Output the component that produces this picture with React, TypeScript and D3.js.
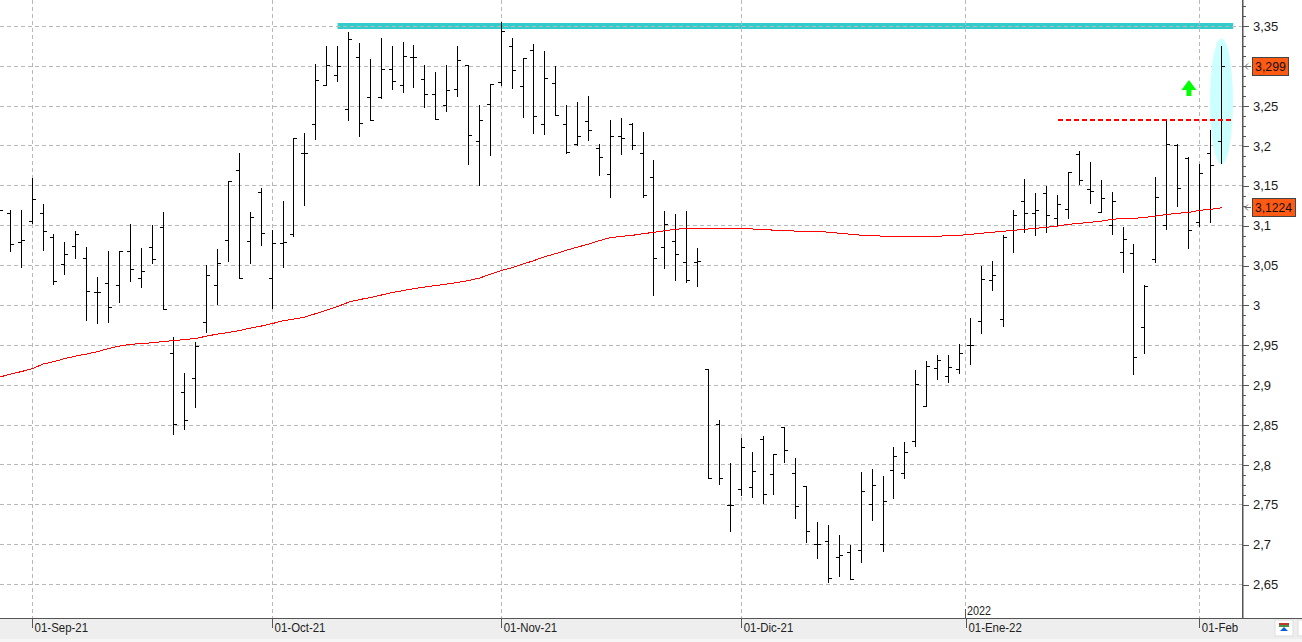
import React from 'react'
import * as d3 from "d3";

// Barras diarias (índice 3 = 01-Sep-21, índice 112 = última sesión)
const opens = [3.1192,3.1154,3.0790,3.1053,3.1154,3.0853,3.0515,3.0740,3.0590,3.0163,3.0276,3.0251,3.0677,3.0339,3.0727,3.0978,2.9398,2.8909,2.9085,2.9787,3.0251,3.0815,3.1693,3.0802,3.1417,3.0339,3.0778,3.0891,3.1906,3.2270,3.2759,3.2884,3.2458,3.3110,3.2608,3.2608,3.2960,3.2759,3.3110,3.2834,3.2646,3.2508,3.2709,3.3010,3.2056,3.2521,3.2797,3.3248,3.2747,3.3198,3.2270,3.2784,3.2270,3.2019,3.2307,3.1969,3.1643,3.2120,3.2270,3.1906,3.1605,3.0727,3.0802,3.0540,3.0540,2.9198,2.8508,2.7492,2.7693,2.7718,2.8320,2.7881,2.8470,2.7893,2.7731,2.7003,2.7040,2.6840,2.6903,2.6928,2.7505,2.7003,2.7931,2.7893,2.8294,2.8734,2.9211,2.9110,2.9198,2.9498,2.9799,3.0314,2.9825,3.0941,3.1304,3.1154,3.1404,3.1092,3.1204,3.1894,3.1455,3.1167,3.1003,3.0665,3.0652,2.9724,3.0577,3.1003,3.2006,3.1844,3.1041,3.1906,3.2056];
const highs = [3.1254,3.1192,3.1192,3.1593,3.1267,3.0891,3.0790,3.0928,3.0727,3.0351,3.0677,3.0677,3.1016,3.0715,3.1003,3.1167,2.9599,2.9147,2.9536,3.0502,3.0703,3.1555,3.1906,3.1167,3.1468,3.0941,3.1304,3.2095,3.2157,3.3023,3.3248,3.3248,3.3424,3.3285,3.3085,3.3349,3.3248,3.3298,3.3260,3.3010,3.2922,3.3010,3.3248,3.3010,3.2508,3.2772,3.3549,3.3349,3.3098,3.3273,3.3185,3.2998,3.2508,3.2546,3.2621,3.2019,3.2320,3.2346,3.2282,3.2170,3.1819,3.1179,3.1142,3.1179,3.0715,2.9198,2.8558,2.8019,2.8333,2.8157,2.8358,2.8132,2.8470,2.8082,2.7731,2.7279,2.7241,2.7116,2.6990,2.7906,2.7944,2.7856,2.8219,2.8282,2.9185,2.9298,2.9373,2.9373,2.9511,2.9838,3.0490,3.0552,3.0878,3.1192,3.1580,3.1404,3.1493,3.1379,3.1668,3.1931,3.1794,3.1568,3.1417,3.0978,3.0765,3.0251,3.1605,3.2320,3.2019,3.1856,3.1769,3.2195,3.3248];
const lows = [3.0690,3.0677,3.0477,3.1028,3.0690,3.0264,3.0389,3.0590,2.9812,2.9774,2.9787,3.0038,3.0301,3.0226,3.0527,2.9950,2.8383,2.8445,2.8721,2.9662,3.0013,3.0552,3.0339,3.0527,3.0752,2.9963,3.0477,3.0866,3.1254,3.2082,3.2759,3.2809,3.2320,3.2120,3.2320,3.2596,3.2709,3.2671,3.2734,3.2483,3.2333,3.2433,3.2621,3.1769,3.1505,3.1881,3.2759,3.2722,3.2358,3.2157,3.2145,3.2383,3.1906,3.2006,3.2069,3.1630,3.1354,3.1894,3.1956,3.1354,3.0125,3.0465,3.0314,3.0289,3.0239,2.7831,2.7756,2.7166,2.7617,2.7592,2.7517,2.7630,2.8032,2.7330,2.7028,2.6828,2.6527,2.6602,2.6564,2.6778,2.7304,2.6915,2.7580,2.7831,2.8232,2.8734,2.9072,2.9035,2.9147,2.9261,2.9649,3.0188,2.9737,3.0665,3.0916,3.0878,3.0916,3.0991,3.1092,3.1518,3.1279,3.1167,3.0891,3.0414,2.9135,2.9398,3.0540,3.0954,3.1242,3.0715,3.0991,3.1041,3.1781];
const closes = [3.1192,3.0765,3.0815,3.1329,3.0928,3.0301,3.0640,3.0891,3.0175,3.0163,2.9975,3.0677,3.0452,3.0426,3.0577,2.9950,2.8508,2.8558,2.9486,3.0376,3.0527,3.1555,3.0339,3.1104,3.0903,3.0778,3.0790,3.2095,3.1906,3.2822,3.3010,3.2998,3.3336,3.2282,3.2320,3.2960,3.2809,3.3123,3.3110,3.2646,3.2333,3.2696,3.3073,3.2132,3.2320,3.2772,3.3436,3.2947,3.3098,3.2371,3.2847,3.2383,3.1919,3.2120,3.2195,3.1856,3.2120,3.2095,3.2006,3.1379,3.0590,3.1016,3.0640,3.0314,3.0552,2.7831,2.7831,2.7492,2.8219,2.7918,2.7630,2.8132,2.8182,2.7480,2.7166,2.7003,2.6577,2.6865,2.6564,2.7667,2.7743,2.7542,2.8107,2.8157,2.9010,2.9236,2.9311,2.9223,2.9398,2.9498,3.0326,3.0376,3.0853,3.1129,3.1154,3.1192,3.1129,3.1267,3.1668,3.1568,3.1429,3.1342,3.1304,3.0828,2.9348,3.0239,3.1354,3.2019,3.1468,3.0941,3.1655,3.1756,3.2998];
const movingAvg = [2.9102,2.9140,2.9171,2.9209,2.9266,2.9297,2.9335,2.9366,2.9391,2.9422,2.9460,2.9491,2.9512,2.9522,2.9532,2.9547,2.9560,2.9572,2.9587,2.9616,2.9642,2.9661,2.9686,2.9717,2.9742,2.9773,2.9808,2.9830,2.9855,2.9899,2.9943,2.9987,3.0043,3.0074,3.0099,3.0131,3.0162,3.0187,3.0212,3.0231,3.0250,3.0269,3.0288,3.0313,3.0344,3.0394,3.0438,3.0475,3.0520,3.0564,3.0614,3.0651,3.0695,3.0733,3.0770,3.0814,3.0851,3.0866,3.0879,3.0900,3.0917,3.0937,3.0955,3.0967,3.0967,3.0967,3.0967,3.0967,3.0967,3.0958,3.0955,3.0942,3.0942,3.0930,3.0930,3.0930,3.0917,3.0905,3.0892,3.0879,3.0879,3.0866,3.0866,3.0866,3.0866,3.0866,3.0866,3.0879,3.0879,3.0892,3.0905,3.0917,3.0930,3.0942,3.0955,3.0967,3.0980,3.0996,3.1017,3.1030,3.1042,3.1058,3.1080,3.1092,3.1092,3.1105,3.1121,3.1142,3.1155,3.1167,3.1193,3.1205,3.1224];

const priceTicks = [3.35, 3.3, 3.25, 3.2, 3.15, 3.1, 3.05, 3, 2.95, 2.9, 2.85, 2.8, 2.75, 2.7, 2.65];
const dateLabels = ['01-Sep-21', '01-Oct-21', '01-Nov-21', '01-Dic-21', '01-Ene-22', '01-Feb'];
const dateIndex = [3, 25, 46, 68, 88.6, 110];
const lastClose = 3.299;
const lastAvg = 3.1224;
const resistance = 3.35;
const resistanceFrom = 31;
const resistanceTo = 113.1;
const breakout = 3.232;
const breakoutFrom = 97;
const breakoutTo = 112.9;

const WIDTH = 1302;
const HEIGHT = 642;
const AXIS_X = 1242;
const AXIS_Y = 618;
const FONT = '"Liberation Sans", Arial, sans-serif';

const App = () => {
  const chartRef = React.useRef<SVGSVGElement | null>(null);

  React.useEffect(() => {
    const x = d3.scaleLinear().domain([4, 15]).range([43.01, 163.01]);
    const y = d3.scaleLinear().domain([3.35, 2.65]).range([26.3, 584.5]);
    const px = (i: number) => Math.floor(x(i));
    const py = (v: number) => Math.floor(y(v));

    const svg = d3.select(chartRef.current);
    svg.selectAll('*').remove();

    // Fondo y banda inferior
    svg.append('rect').attr('width', WIDTH).attr('height', HEIGHT).attr('fill', '#ffffff');
    svg.append('rect').attr('y', AXIS_Y).attr('width', WIDTH).attr('height', 21).attr('fill', '#eeeeee');
    svg.append('rect').attr('y', 639).attr('width', WIDTH).attr('height', 3).attr('fill', '#f6f6f6');

    // Franja de resistencia
    svg.append('rect')
      .attr('x', x(resistanceFrom))
      .attr('y', py(resistance) - 3)
      .attr('width', x(resistanceTo) - x(resistanceFrom))
      .attr('height', 6)
      .attr('fill', '#33cccc');

    // Rejilla
    svg.append('g').selectAll('line')
      .data(priceTicks)
      .enter()
      .append('line')
      .attr('x1', 0)
      .attr('x2', AXIS_X)
      .attr('y1', (d) => py(d) + 0.5)
      .attr('y2', (d) => py(d) + 0.5);
    svg.append('g').selectAll('line')
      .data(dateIndex)
      .enter()
      .append('line')
      .attr('x1', (d) => px(d) + 0.5)
      .attr('x2', (d) => px(d) + 0.5)
      .attr('y1', 0)
      .attr('y2', AXIS_Y);
    svg.selectAll('g line')
      .attr('stroke', '#b8b8b8')
      .attr('stroke-dasharray', '4 3')
      .attr('shape-rendering', 'crispEdges');

    // Elipse de la última barra
    svg.append('ellipse')
      .attr('cx', x(112) + 0.3)
      .attr('cy', (y(highs[112]) + y(lows[112])) / 2 - 3.5)
      .attr('rx', 11.5)
      .attr('ry', 63)
      .attr('fill', '#ccffff');

    // Barras OHLC
    const bars = svg.append('g').attr('fill', '#000000');
    const idx = d3.range(opens.length);
    bars.selectAll('.stem')
      .data(idx)
      .enter()
      .append('rect')
      .attr('class', 'stem')
      .attr('x', (i) => px(i))
      .attr('y', (i) => py(highs[i]))
      .attr('width', 1)
      .attr('height', (i) => py(lows[i]) - py(highs[i]) + 1);
    bars.selectAll('.open')
      .data(idx)
      .enter()
      .append('rect')
      .attr('class', 'open')
      .attr('x', (i) => px(i) - 3)
      .attr('y', (i) => py(opens[i]))
      .attr('width', 3)
      .attr('height', 1);
    bars.selectAll('.close')
      .data(idx)
      .enter()
      .append('rect')
      .attr('class', 'close')
      .attr('x', (i) => px(i) + 1)
      .attr('y', (i) => py(closes[i]))
      .attr('width', 3)
      .attr('height', 1);

    // Media móvil
    const avgLine = d3.line<number>()
      .x((d, i) => x(i) + 0.5)
      .y((d) => y(d));
    svg.append('path')
      .attr('d', avgLine(movingAvg))
      .attr('fill', 'none')
      .attr('stroke', '#ff0000')
      .attr('stroke-width', 1)
      .attr('shape-rendering', 'crispEdges');

    // Línea de rotura
    svg.append('line')
      .attr('x1', x(breakoutFrom))
      .attr('x2', x(breakoutTo))
      .attr('y1', py(breakout))
      .attr('y2', py(breakout))
      .attr('stroke', '#ff0000')
      .attr('stroke-width', 2)
      .attr('stroke-dasharray', '5.5 2.5')
      .attr('shape-rendering', 'crispEdges');

    // Flecha verde
    const ax = x(109) + 0.5;
    const ay = 80;
    svg.append('path')
      .attr('d', `M${ax},${ay}L${ax + 7.5},${ay + 10}H${ax + 2.5}V${ay + 16}H${ax - 2.5}V${ay + 10}H${ax - 7.5}Z`)
      .attr('fill', '#00ff00');

    // Eje de precios (el 3,3 queda tapado por la etiqueta del último valor)
    const fmt = (d: d3.NumberValue) => (+d === 3.3 ? '' : String(d).replace('.', ','));
    const isMajor = (v: number) => Math.abs(v * 20 - Math.round(v * 20)) < 0.01;
    const minorTicks = d3.range(0, 50)
      .map((k) => 3.375 - k * 0.0125)
      .filter((v) => !isMajor(v));
    const majorAxis = svg.append('g')
      .attr('transform', `translate(${AXIS_X},0)`)
      .call(d3.axisRight(y).tickValues(priceTicks).tickSize(7).tickPadding(4).tickFormat(fmt));
    const minorAxis = svg.append('g')
      .attr('transform', `translate(${AXIS_X},0)`)
      .call(d3.axisRight(y).tickValues(minorTicks).tickSize(4).tickFormat(() => ''));
    [majorAxis, minorAxis].forEach((a) => {
      a.select('.domain').remove();
      a.selectAll('line').attr('stroke', '#555555').attr('shape-rendering', 'crispEdges');
    });
    majorAxis.selectAll('text')
      .attr('fill', '#1a1a1a')
      .style('font', `13px ${FONT}`);
    svg.append('rect')
      .attr('x', AXIS_X)
      .attr('y', 0)
      .attr('width', 1.5)
      .attr('height', AXIS_Y)
      .attr('fill', '#555555');

    // Eje de fechas
    const dateAxis = svg.append('g')
      .attr('transform', `translate(0,${AXIS_Y})`)
      .call(
        d3.axisBottom(x)
          .tickValues(dateIndex)
          .tickSize(10)
          .tickSizeOuter(0)
          .tickFormat((d) => dateLabels[dateIndex.indexOf(+d)])
      );
    dateAxis.select('.domain').remove();
    dateAxis.selectAll('line').attr('stroke', '#555555').attr('shape-rendering', 'crispEdges');
    dateAxis.selectAll<SVGTextElement, unknown>('text')
      .attr('y', 5)
      .attr('dx', 2)
      .attr('text-anchor', 'start')
      .attr('fill', '#222222')
      .style('font', `13px ${FONT}`)
      .attr('lengthAdjust', 'spacingAndGlyphs')
      .attr('textLength', function () {
        return this.getComputedTextLength() * 0.88;
      });
    svg.append('rect').attr('y', AXIS_Y).attr('width', AXIS_X + 60).attr('height', 1).attr('fill', '#555555');

    // Año
    svg.append('line')
      .attr('x1', px(88.6) + 0.5)
      .attr('x2', px(88.6) + 0.5)
      .attr('y1', 609)
      .attr('y2', AXIS_Y)
      .attr('stroke', '#555555')
      .attr('shape-rendering', 'crispEdges');
    svg.append('text')
      .attr('x', px(88.6) + 2)
      .attr('y', 615)
      .attr('fill', '#222222')
      .attr('lengthAdjust', 'spacingAndGlyphs')
      .attr('textLength', 24)
      .style('font', `13px ${FONT}`)
      .text('2022');

    // Etiquetas de último valor
    const boxes = [
      { value: lastClose, text: '3,299', w: 36, tw: 31 },
      { value: lastAvg, text: '3,1224', w: 43, tw: 37 },
    ];
    boxes.forEach((b) => {
      const cy = py(b.value) + 0.5;
      svg.append('path')
        .attr('d', `M1251,${cy}H1245M1248,${cy - 3}L1245,${cy}L1248,${cy + 3}`)
        .attr('fill', 'none')
        .attr('stroke', '#666666');
      svg.append('rect')
        .attr('x', 1252.5)
        .attr('y', cy - 9)
        .attr('width', b.w)
        .attr('height', 18)
        .attr('fill', '#ff5a14')
        .attr('stroke', '#444444');
      svg.append('text')
        .attr('x', 1255)
        .attr('y', cy + 4.5)
        .attr('fill', '#111111')
        .attr('lengthAdjust', 'spacingAndGlyphs')
        .attr('textLength', b.tw)
        .style('font', `13px ${FONT}`)
        .text(b.text);
    });

    // Botones de la esquina
    svg.append('rect').attr('x', 1275).attr('y', 620).attr('width', 18).attr('height', 16).attr('fill', '#ffffff').attr('stroke', '#dddddd');
    svg.append('rect').attr('x', 1279).attr('y', 623).attr('width', 10).attr('height', 2).attr('fill', '#c0392b');
    svg.append('rect').attr('x', 1279).attr('y', 625).attr('width', 10).attr('height', 2).attr('fill', '#4a8f4a');
    svg.append('path').attr('d', 'M1284,627L1288,631H1280Z').attr('fill', '#0a5fd8');
    svg.append('rect').attr('x', 1298).attr('y', 620).attr('width', 6).attr('height', 16).attr('fill', '#ffffff').attr('stroke', '#dddddd');
  }, []);

  return (
    <svg
      ref={chartRef}
      width={WIDTH}
      height={HEIGHT}
      style={{ position: 'absolute', left: 0, top: 0, display: 'block' }}
    ></svg>
  );
};

export default App
